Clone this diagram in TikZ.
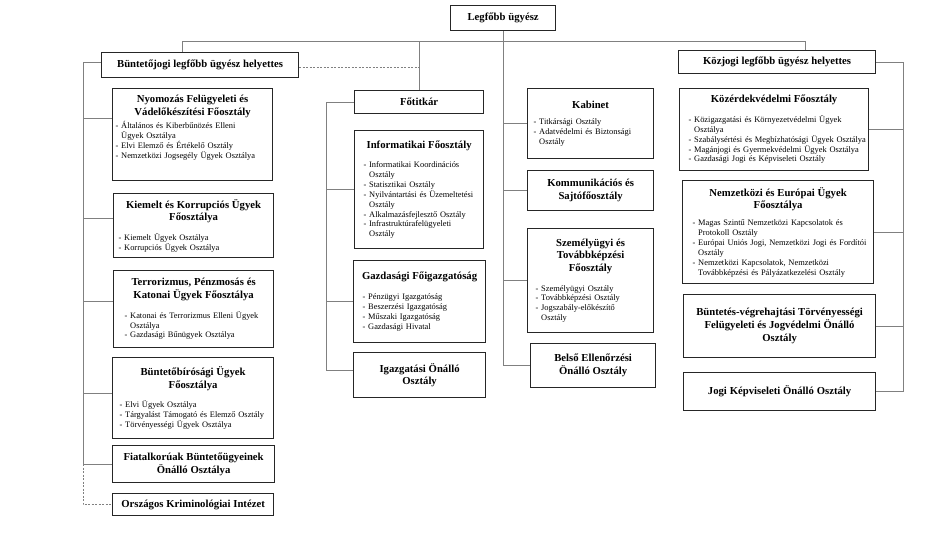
\documentclass[tikz,border=0pt]{standalone}
\usepackage{fontspec}
\setmainfont{Liberation Serif}
\newdimen\itmind
\tikzset{
  box/.style={draw=black!85, line width=1.2pt, fill=white, inner xsep=3pt, inner ysep=2pt,
    anchor=north west, font=\fontsize{8.4}{9.9}\selectfont},
  conn/.style={draw=black!50, line width=0.8pt},
  dconn/.style={conn, dash pattern=on 2pt off 1.5pt},
}
\newcommand\nl{\break}
\newcommand\ttl[1]{{\leftskip=-20pt plus 1fil\rightskip=-20pt plus 1fil\parfillskip=0pt\parindent=0pt
  \fontsize{10.7}{12.8}\selectfont\bfseries #1\par}}
\newcommand\itm[1]{{\leftskip=\itmind\rightskip=-30pt plus 1fil\parfillskip=0pt
  \setbox0\hbox{- }\hangindent=\wd0 \hangafter=1 \noindent- #1\par}}
\newcommand\gap[1][9.5]{\par\vspace{#1pt}}
\newcommand\tail[1]{\par\vspace{#1pt}\nointerlineskip\null}
\newcommand\bx[7][0]{%
  \pgfmathsetmacro\tw{#5-6}%
  \node[box, minimum width=#5pt, minimum height=#6pt, text width=\tw pt] (#2) at (#3pt,-#4pt) {\itmind=#1pt #7};}
\begin{document}
\begin{tikzpicture}
\useasboundingbox (0,0) rectangle (933pt,-540pt);
% top level
\bx{legf}{450}{5}{105}{25}{\ttl{Legfőbb ügyész}}
\bx{bunt}{101}{52}{197}{25}{\ttl{Büntetőjogi legfőbb ügyész helyettes}}
\bx{kozj}{678}{50}{197}{23}{\ttl{Közjogi legfőbb ügyész helyettes}}
\bx{fot}{354}{90}{129}{23}{\ttl{Főtitkár}}
% left column
\bx[0]{nyom}{112}{88}{160}{92}{\ttl{Nyomozás Felügyeleti és\nl Vádelőkészítési Főosztály}\gap[3]
  \itm{Általános és Kiberbűnözés Elleni\nl Ügyek Osztálya}\itm{Elvi Elemző és Értékelő Osztály}\itm{Nemzetközi Jogsegély Ügyek Osztálya}\tail{14}}
\bx[2]{kiem}{113}{193}{160}{64}{\ttl{Kiemelt és Korrupciós Ügyek\nl Főosztálya}\gap
  \itm{Kiemelt Ügyek Osztálya}\itm{Korrupciós Ügyek Osztálya}}
\bx[8]{terr}{113}{270}{160}{77}{\ttl{Terrorizmus, Pénzmosás és\nl Katonai Ügyek Főosztálya}\gap
  \itm{Katonai és Terrorizmus Elleni Ügyek\nl Osztálya}\itm{Gazdasági Bűnügyek Osztálya}}
\bx[4]{bbir}{112}{357}{161}{81}{\ttl{Büntetőbírósági Ügyek\nl Főosztálya}\gap
  \itm{Elvi Ügyek Osztálya}\itm{Tárgyalást Támogató és Elemző Osztály}\itm{Törvényességi Ügyek Osztálya}}
\bx{fiat}{112}{445}{162}{37}{\ttl{Fiatalkorúak Büntetőügyeinek\nl Önálló Osztálya}}
\bx{orsz}{112}{493}{161}{22}{\ttl{Országos Kriminológiai Intézet}}
% middle column
\bx[6]{info}{354}{130}{129}{118}{\ttl{Informatikai Főosztály}\gap
  \itm{Informatikai Koordinációs\nl Osztály}\itm{Statisztikai Osztály}\itm{Nyilvántartási és Üzemeltetési\nl Osztály}\itm{Alkalmazásfejlesztő Osztály}\itm{Infrastruktúrafelügyeleti\nl Osztály}}
\bx[6]{gazd}{353}{260}{132}{82}{\ttl{Gazdasági Főigazgatóság}\gap
  \itm{Pénzügyi Igazgatóság}\itm{Beszerzési Igazgatóság}\itm{Műszaki Igazgatóság}\itm{Gazdasági Hivatal}}
\bx{igaz}{353}{352}{132}{45}{\ttl{Igazgatási Önálló\nl Osztály}}
% Legfobb column
\bx[3]{kab}{527}{88}{126}{70}{\ttl{Kabinet}\gap[7]
  \itm{Titkársági Osztály}\itm{Adatvédelmi és Biztonsági\nl Osztály}}
\bx{komm}{527}{170}{126}{40}{\ttl{Kommunikációs és\nl Sajtófőosztály}}
\bx[5]{szem}{527}{228}{126}{104}{\ttl{Személyügyi és\nl Továbbképzési\nl Főosztály}\gap
  \itm{Személyügyi Osztály}\itm{Továbbképzési Osztály}\itm{Jogszabály-előkészítő\nl Osztály}}
\bx{bels}{530}{343}{125}{44}{\ttl{Belső Ellenőrzési\nl Önálló Osztály}}
% right column
\bx[6]{koze}{679}{88}{189}{82}{\ttl{Közérdekvédelmi Főosztály}\gap
  \itm{Közigazgatási és Környezetvédelmi Ügyek\nl Osztálya}\itm{Szabálysértési és Megbízhatósági Ügyek Osztálya}\itm{Magánjogi és Gyermekvédelmi Ügyek Osztálya}\itm{Gazdasági Jogi és Képviseleti Osztály}}
\bx[7]{nemz}{682}{180}{191}{103}{\ttl{Nemzetközi és Európai Ügyek\nl Főosztálya}\gap[7]
  \itm{Magas Szintű Nemzetközi Kapcsolatok és\nl Protokoll Osztály}\itm{Európai Uniós Jogi, Nemzetközi Jogi és Fordítói\nl Osztály}\itm{Nemzetközi Kapcsolatok, Nemzetközi\nl Továbbképzési és Pályázatkezelési Osztály}}
\bx{bv}{683}{294}{192}{63}{\ttl{Büntetés-végrehajtási Törvényességi\nl Felügyeleti és Jogvédelmi Önálló\nl Osztály}}
\bx{jogi}{683}{372}{192}{38}{\ttl{Jogi Képviseleti Önálló Osztály}}
% connectors
\coordinate (bus) at (0,-41pt);
\coordinate (buntup) at ([xshift=-17.5pt]bunt.north);
\coordinate (kozjup) at ([xshift=28.5pt]kozj.north);
\draw[conn] (buntup) -- (buntup |- bus) -| (kozjup);
\draw[conn] (fot.north) -- (fot.north |- bus);
\draw[conn] (legf.south) -- (legf.south |- bels.west);
\draw[conn] (kab.west -| legf.south) -- (kab.west);
\draw[conn] (komm.west -| legf.south) -- (komm.west);
\draw[conn] (szem.west -| legf.south) -- (szem.west);
\draw[conn] (bels.west -| legf.south) -- (bels.west);
\coordinate (buntr) at ([yshift=-2.5pt]bunt.east);
\draw[dconn] (buntr) -- (buntr -| fot.north);
% left bracket
\draw[conn] ([yshift=2.5pt]bunt.west) -- ++(-18pt,0) coordinate (lb);
\draw[conn] (lb) -- (lb |- fiat.west) -- (fiat.west);
\coordinate (nyomc) at ([yshift=16pt]nyom.west);
\coordinate (kiemc) at ([yshift=7pt]kiem.west);
\coordinate (terrc) at ([yshift=8pt]terr.west);
\coordinate (bbirc) at ([yshift=4.5pt]bbir.west);
\draw[conn] (nyomc -| lb) -- (nyomc);
\draw[conn] (kiemc -| lb) -- (kiemc);
\draw[conn] (terrc -| lb) -- (terrc);
\draw[conn] (bbirc -| lb) -- (bbirc);
\draw[dconn] (fiat.west -| lb) |- (orsz.west);
% fotitkar bracket
\coordinate (igazc) at ([yshift=4.5pt]igaz.west);
\draw[conn] (fot.west) -- ++(-28pt,0) coordinate (fb) |- (igazc);
\draw[conn] (info.west -| fb) -- (info.west);
\draw[conn] (gazd.west -| fb) -- (gazd.west);
% right bracket
\draw[conn] (kozj.east) -- ++(27pt,0) coordinate (rb) |- (jogi.east);
\draw[conn] (koze.east) -- (koze.east -| rb);
\draw[conn] (nemz.east) -- (nemz.east -| rb);
\draw[conn] (bv.east) -- (bv.east -| rb);
\end{tikzpicture}
\end{document}
